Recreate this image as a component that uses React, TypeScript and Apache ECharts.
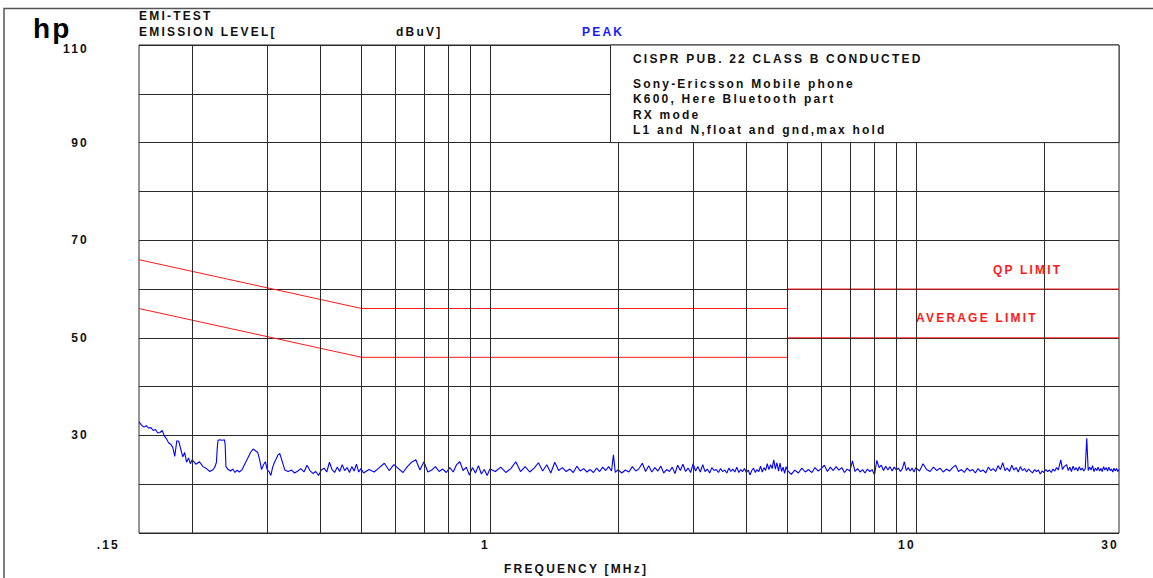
import React, { useEffect, useRef } from 'react';
import * as echarts from 'echarts';

const xRange = [0.15, 30];
const yRange = [10, 110];
const yLabelValues = [110, 90, 70, 50, 30];
const gridFreqs = [0.2, 0.3, 0.4, 0.5, 0.6, 0.7, 0.8, 0.9, 1, 2, 3, 4, 5, 6, 7, 8, 9, 10, 20];

const qpLimit = [[0.15, 66], [0.5, 56], [5, 56], [5, 60], [30, 60]];
const avgLimit = [[0.15, 56], [0.5, 46], [5, 46], [5, 50], [30, 50]];

const peakTrace = [
  [0.150, 32.8], [0.152, 32.1], [0.154, 31.7], [0.156, 32.0], [0.158, 31.5], [0.160, 31.6], [0.162, 31.0], [0.164, 31.2],
  [0.166, 30.5], [0.168, 30.6], [0.170, 31.0], [0.172, 29.9], [0.174, 29.3], [0.176, 28.5], [0.178, 28.2], [0.180, 27.6],
  [0.182, 25.7], [0.184, 28.9], [0.186, 28.8], [0.188, 27.2], [0.190, 25.6], [0.192, 26.5], [0.194, 24.5], [0.196, 25.4],
  [0.198, 24.2], [0.200, 25.0],
  [0.204, 24.1], [0.208, 24.6], [0.212, 23.6], [0.216, 23.2], [0.220, 22.6], [0.224, 23.0], [0.226, 23.5], [0.228, 24.5],
  [0.229, 27.5], [0.230, 29.0], [0.232, 29.1], [0.235, 29.0], [0.238, 29.1], [0.239, 28.2], [0.240, 23.6], [0.243, 23.0],
  [0.246, 22.7], [0.249, 23.1], [0.252, 22.4], [0.255, 22.9], [0.258, 22.5], [0.262, 23.0], [0.266, 24.2], [0.270, 25.3],
  [0.274, 26.5], [0.278, 27.2], [0.282, 26.8], [0.285, 26.5], [0.288, 25.0], [0.291, 23.0], [0.294, 24.0], [0.297, 24.6],
  [0.300, 23.0], [0.303, 22.6], [0.306, 21.8], [0.309, 23.5], [0.312, 24.5], [0.315, 25.2], [0.318, 26.0], [0.321, 26.3],
  [0.324, 25.2], [0.327, 24.0], [0.330, 22.9],
  [0.336, 22.6], [0.342, 22.9], [0.348, 22.3], [0.354, 22.7], [0.360, 23.2], [0.366, 22.5], [0.372, 23.9], [0.378, 22.8],
  [0.384, 22.2], [0.390, 22.6], [0.396, 21.8], [0.402, 22.9], [0.408, 23.3], [0.414, 22.5], [0.420, 24.5], [0.426, 23.0],
  [0.432, 22.4], [0.438, 23.5], [0.444, 22.6], [0.450, 24.0], [0.456, 22.8], [0.462, 23.4], [0.468, 22.4], [0.474, 23.6],
  [0.480, 22.7], [0.486, 24.1], [0.492, 22.5], [0.498, 23.2],
  [0.505, 22.3], [0.520, 23.0], [0.535, 22.5], [0.550, 23.4], [0.565, 24.3], [0.580, 22.8], [0.595, 24.0], [0.610, 23.2],
  [0.625, 22.4], [0.640, 23.6], [0.655, 24.5], [0.670, 25.0], [0.685, 22.9], [0.700, 24.6], [0.715, 22.5], [0.730, 22.9],
  [0.745, 23.6], [0.760, 22.6], [0.775, 23.1], [0.790, 22.4], [0.805, 23.4], [0.820, 22.5], [0.835, 24.0], [0.850, 24.6],
  [0.865, 22.8], [0.880, 23.5], [0.895, 21.9], [0.910, 23.4], [0.925, 22.3], [0.940, 23.8], [0.955, 22.1], [0.970, 23.0],
  [0.985, 21.8], [1.00, 23.1],
  [1.03, 22.6], [1.06, 23.5], [1.09, 22.4], [1.12, 23.2], [1.15, 24.6], [1.18, 22.6], [1.21, 23.6], [1.24, 22.5],
  [1.27, 23.3], [1.30, 24.4], [1.33, 22.7], [1.36, 24.0], [1.39, 22.3], [1.42, 24.5], [1.45, 22.8], [1.48, 23.4],
  [1.51, 22.6], [1.54, 23.1], [1.57, 22.4], [1.60, 23.7], [1.63, 22.7], [1.66, 23.2], [1.69, 22.5], [1.72, 23.0],
  [1.75, 22.4], [1.78, 23.3], [1.81, 22.6], [1.84, 23.5], [1.87, 22.8], [1.90, 23.6], [1.93, 22.7], [1.95, 26.0],
  [1.97, 22.4], [2.00, 23.0],
  [2.04, 22.3], [2.08, 22.9], [2.12, 22.5], [2.16, 23.6], [2.20, 22.7], [2.24, 23.2], [2.28, 24.3], [2.32, 22.6],
  [2.36, 23.8], [2.40, 22.5], [2.44, 23.4], [2.48, 22.7], [2.52, 23.7], [2.56, 22.3], [2.60, 23.0], [2.64, 22.6],
  [2.68, 23.5], [2.72, 22.2], [2.76, 23.9], [2.80, 22.8], [2.84, 24.1], [2.88, 22.6], [2.92, 23.3], [2.96, 22.4],
  [3.00, 24.2], [3.04, 22.7], [3.08, 23.6], [3.12, 22.5], [3.16, 24.0], [3.20, 22.6], [3.24, 23.1], [3.28, 22.3],
  [3.32, 23.4], [3.36, 22.8], [3.40, 23.0], [3.44, 22.4], [3.48, 23.2], [3.52, 22.6], [3.56, 22.9], [3.60, 22.3],
  [3.64, 23.3], [3.68, 22.6], [3.72, 23.1], [3.76, 22.5], [3.80, 23.5], [3.84, 22.4], [3.88, 23.0], [3.92, 22.6],
  [3.96, 23.2], [4.00, 22.4], [4.04, 22.9], [4.08, 21.9], [4.12, 22.8], [4.16, 23.3], [4.20, 22.4], [4.24, 23.0],
  [4.28, 22.6], [4.32, 23.7], [4.36, 22.5], [4.40, 23.4], [4.44, 22.8], [4.48, 24.2], [4.52, 23.0], [4.56, 24.0],
  [4.60, 23.2], [4.64, 25.0], [4.68, 23.1], [4.72, 24.4], [4.76, 22.7], [4.80, 24.3], [4.84, 22.6], [4.88, 23.5],
  [4.92, 22.2], [4.96, 23.6], [5.00, 22.8],
  [5.10, 22.0], [5.20, 22.9], [5.30, 22.3], [5.40, 23.3], [5.50, 22.5], [5.60, 23.0], [5.70, 22.4], [5.80, 23.4],
  [5.90, 22.7], [6.00, 23.2], [6.10, 23.9], [6.20, 22.6], [6.30, 23.5], [6.40, 22.8], [6.50, 23.6], [6.60, 22.9],
  [6.70, 23.4], [6.80, 22.4], [6.90, 23.1], [7.00, 22.7], [7.10, 24.8], [7.20, 22.6], [7.30, 23.2], [7.40, 22.5],
  [7.50, 23.0], [7.60, 22.3], [7.70, 23.1], [7.80, 22.6], [7.90, 23.0], [8.00, 21.9], [8.10, 24.9], [8.20, 23.4],
  [8.30, 23.9], [8.40, 22.8], [8.50, 23.7], [8.60, 22.9], [8.70, 23.6], [8.80, 22.7], [8.90, 23.5], [9.00, 22.9],
  [9.10, 23.3], [9.20, 22.6], [9.30, 23.2], [9.40, 24.6], [9.50, 22.8], [9.60, 23.4], [9.70, 22.7], [9.80, 23.3],
  [9.90, 22.5], [10.0, 23.4],
  [10.2, 22.7], [10.4, 24.2], [10.6, 23.0], [10.8, 22.6], [11.0, 23.5], [11.2, 22.8], [11.4, 23.3], [11.6, 22.5],
  [11.8, 23.1], [12.0, 22.7], [12.2, 23.4], [12.4, 23.9], [12.6, 22.6], [12.8, 23.0], [13.0, 22.4], [13.2, 23.3],
  [13.4, 22.7], [13.6, 23.0], [13.8, 22.3], [14.0, 23.2], [14.2, 22.6], [14.4, 22.9], [14.6, 22.3], [14.8, 23.5],
  [15.0, 22.8], [15.2, 23.2], [15.4, 22.6], [15.6, 23.8], [15.8, 23.0], [16.0, 24.4], [16.2, 22.8], [16.4, 23.3],
  [16.6, 22.6], [16.8, 23.9], [17.0, 22.9], [17.2, 23.4], [17.4, 22.5], [17.6, 23.6], [17.8, 22.8], [18.0, 23.2],
  [18.2, 22.5], [18.4, 23.1], [18.6, 22.7], [18.8, 22.3], [19.0, 23.0], [19.2, 22.6], [19.4, 22.9], [19.6, 22.1],
  [19.8, 22.7], [20.0, 22.4], [20.2, 23.0], [20.4, 22.6], [20.6, 22.9], [20.8, 22.4], [21.0, 23.1], [21.2, 22.7],
  [21.4, 23.4], [21.6, 22.9], [21.9, 25.0], [22.1, 23.0], [22.3, 23.6], [22.6, 24.0], [22.8, 22.8], [23.0, 23.5],
  [23.2, 22.6], [23.4, 23.7], [23.6, 22.9], [23.8, 23.4], [24.0, 22.7], [24.2, 23.6], [24.4, 22.9], [24.6, 23.3],
  [24.8, 22.7], [25.0, 23.2], [25.2, 29.4], [25.4, 22.8], [25.6, 23.5], [25.8, 22.9], [26.0, 23.8], [26.2, 22.6],
  [26.4, 23.3], [26.6, 22.8], [26.8, 23.5], [27.0, 22.7], [27.2, 23.2], [27.4, 22.6], [27.6, 23.6], [27.8, 22.9],
  [28.0, 23.4], [28.2, 22.7], [28.4, 23.5], [28.6, 22.8], [28.8, 23.1], [29.0, 22.5], [29.2, 23.3], [29.4, 22.7],
  [29.6, 23.2], [29.8, 22.6], [30.0, 23.0],
];

const logoText = 'hp';
const titleLines = ['EMI-TEST', 'EMISSION LEVEL['];
const unitText = 'dBuV]';
const modeText = 'PEAK';
const infoTitle = 'CISPR PUB. 22 CLASS B CONDUCTED';
const infoLines = ['Sony-Ericsson Mobile phone', 'K600, Here Bluetooth part', 'RX mode', 'L1 and N,float and gnd,max hold'];
const qpLabel = 'QP LIMIT';
const avgLabel = 'AVERAGE LIMIT';
const xAxisTitle = 'FREQUENCY [MHz]';

const FAMILY = "'Liberation Sans', Arial, sans-serif";
const FONT = `bold 12px ${FAMILY}`;

function txt(text: string, x: number, y: number, fill = '#111', font = FONT, align = 'left') {
  return {
    type: 'text',
    x,
    y,
    z: 20,
    silent: true,
    style: { text, font, fill, textAlign: align, align, textVerticalAlign: 'middle', verticalAlign: 'middle' },
  };
}

export default function App() {
  const ref = useRef<HTMLDivElement>(null);
  useEffect(() => {
    if (!ref.current) return;
    const chart = echarts.init(ref.current, null, { renderer: 'svg' });
    const gridColor = '#2a2a2a';
    chart.setOption({
      animation: false,
      backgroundColor: '#fff',
      textStyle: { fontFamily: FAMILY },
      grid: { left: 139, right: 34, top: 45, bottom: 45, show: true, borderColor: gridColor, borderWidth: 1 },
      xAxis: {
        type: 'log',
        logBase: 10,
        min: xRange[0],
        max: xRange[1],
        axisLine: { show: false },
        axisTick: { show: false },
        splitLine: { show: false },
        minorSplitLine: { show: false },
        axisLabel: {
          margin: 6,
          align: 'right',
          fontSize: 12,
          fontWeight: 'bold',
          color: '#111',
          showMinLabel: true,
          showMaxLabel: true,
          formatter: (v: number) => (v < 0.5 ? '{a|.15}' : String(Math.round(v))),
          rich: { a: { fontSize: 12, fontWeight: 'bold', color: '#111', padding: [0, 19, 0, 0] } },
        },
      },
      yAxis: {
        type: 'value',
        min: yRange[0],
        max: yRange[1],
        interval: 10,
        axisLine: { show: false },
        axisTick: { show: false },
        splitLine: { show: true, lineStyle: { color: gridColor, width: 1 } },
        axisLabel: {
          margin: 50,
          fontSize: 12,
          fontWeight: 'bold',
          color: '#111',
          formatter: (v: number) => (v === 110 ? '{t|110}' : yLabelValues.includes(v) ? String(v) : ''),
          rich: { t: { fontSize: 12, fontWeight: 'bold', color: '#111', padding: [8, 0, 0, 0] } },
        },
      },
      series: [
        {
          name: 'grid',
          type: 'line',
          data: [],
          silent: true,
          z: 1,
          markLine: {
            silent: true,
            symbol: 'none',
            label: { show: false },
            lineStyle: { color: gridColor, width: 1, type: 'solid' },
            data: gridFreqs.map((f) => ({ xAxis: f })),
          },
        },
        {
          name: 'QP LIMIT',
          type: 'line',
          data: qpLimit,
          showSymbol: false,
          z: 3,
          lineStyle: { color: '#ff1a1a', width: 1 },
        },
        {
          name: 'AVERAGE LIMIT',
          type: 'line',
          data: avgLimit,
          showSymbol: false,
          z: 3,
          lineStyle: { color: '#ff1a1a', width: 1 },
        },
        {
          name: 'PEAK',
          type: 'line',
          data: peakTrace,
          showSymbol: false,
          z: 4,
          lineStyle: { color: '#0000ff', width: 1.1 },
        },
      ],
      graphic: [
        {
          type: 'polyline',
          z: 1,
          silent: true,
          shape: { points: [[4, 600], [4, 8.5], [1160, 8.5]] },
          style: { stroke: '#555', lineWidth: 1.5, fill: 'none' },
        },
        {
          type: 'rect',
          z: 10,
          silent: true,
          shape: { x: 610.5, y: 45, width: 508.5, height: 97.6 },
          style: { fill: '#fff', stroke: gridColor, lineWidth: 1 },
        },
        txt(logoText, 33, 28, '#000', `bold 28px ${FAMILY}`),
        txt(titleLines[0], 139, 16),
        txt(titleLines[1], 139, 31.5),
        txt(unitText, 396, 31.5),
        txt(modeText, 582, 31.5, '#1a1aff'),
        txt(infoTitle, 633, 59),
        txt(infoLines[0], 633, 84),
        txt(infoLines[1], 633, 99),
        txt(infoLines[2], 633, 114.5),
        txt(infoLines[3], 633, 130),
        txt(qpLabel, 993, 270, '#ff1a1a'),
        txt(avgLabel, 916, 317.5, '#ff1a1a'),
        txt(xAxisTitle, 504, 568.5),
      ],
    });
    return () => chart.dispose();
  }, []);
  return (
    <>
      <style>{`#emi-chart text { letter-spacing: 2.2px; }`}</style>
      <div
        id="emi-chart"
        ref={ref}
        style={{ position: 'fixed', left: 0, top: 0, width: 1153, height: 578, background: '#fff' }}
      />
    </>
  );
}
